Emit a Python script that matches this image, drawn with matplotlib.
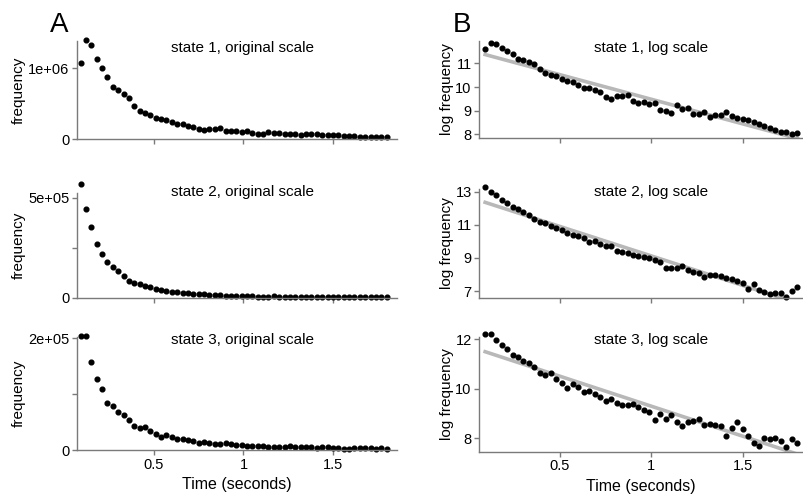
import numpy as np
import matplotlib
matplotlib.use("Agg")
import matplotlib.pyplot as plt

plt.rcParams['font.family'] = ['Liberation Sans', 'DejaVu Sans']

# bin centres (seconds)
time_s = np.round(0.09 + 0.03 * np.arange(58), 2)

# log frequency
log_state1 = [11.59, 11.85, 11.80, 11.63, 11.52, 11.38, 11.20, 11.15, 11.06, 10.96,
              10.77, 10.58, 10.52, 10.46, 10.32, 10.25, 10.23, 10.08, 9.97, 9.97,
              9.87, 9.77, 9.59, 9.51, 9.61, 9.61, 9.66, 9.42, 9.31, 9.38,
              9.27, 9.31, 9.03, 8.97, 8.90, 9.24, 9.07, 9.13, 8.85, 8.86,
              8.93, 8.72, 8.82, 8.82, 8.93, 8.79, 8.68, 8.65, 8.59, 8.51,
              8.44, 8.37, 8.27, 8.17, 8.08, 8.08, 8.02, 8.07]
log_state2 = [13.25, 13.00, 12.78, 12.50, 12.30, 12.09, 11.93, 11.79, 11.59, 11.33,
              11.19, 11.09, 10.95, 10.83, 10.69, 10.53, 10.38, 10.30, 10.20, 9.94,
              10.00, 9.82, 9.72, 9.72, 9.40, 9.38, 9.28, 9.18, 9.09, 9.03,
              8.98, 8.86, 8.76, 8.37, 8.42, 8.41, 8.52, 8.27, 8.17, 8.10,
              7.83, 7.95, 7.97, 7.88, 7.81, 7.70, 7.63, 7.51, 7.10, 7.41,
              7.05, 6.95, 6.80, 6.86, 6.86, 6.66, 7.00, 7.27]
log_state3 = [12.23, 12.23, 11.97, 11.75, 11.61, 11.35, 11.28, 11.13, 11.04, 10.88,
              10.65, 10.57, 10.63, 10.41, 10.25, 10.05, 10.18, 10.06, 9.87, 9.91,
              9.81, 9.68, 9.50, 9.58, 9.44, 9.35, 9.35, 9.39, 9.28, 9.15,
              9.05, 8.75, 8.98, 8.80, 8.94, 8.64, 8.51, 8.66, 8.72, 8.77,
              8.54, 8.58, 8.52, 8.48, 8.10, 8.43, 8.64, 8.37, 8.10, 7.83,
              7.69, 8.00, 7.98, 8.00, 7.91, 7.64, 7.98, 7.83]
log_data = [log_state1, log_state2, log_state3]
# state 1 original-scale counts sit about 10x above exp(log frequency)
count_scale = [10, 1, 1]

states = ["state 1", "state 2", "state 3"]
freq_ticks = [[0, 1e6], [0, 2.5e5, 5e5], [0, 1e5, 2e5]]
freq_ticklabels = [["0", "1e+06"], ["0", "", "5e+05"], ["0", "", "2e+05"]]
log_ticks = [[8, 9, 10, 11], [7, 9, 11, 13], [8, 10, 12]]

W, H = 804, 498
fig = plt.figure(figsize=(W / 100, H / 100), dpi=100)

def px_axes(l, t, r, b):
    return fig.add_axes([l / W, 1 - b / H, (r - l) / W, (b - t) / H])

left_boxes = [(77, 40.7, 397, 139.3), (77, 193.3, 397, 297.5), (77, 337.3, 397, 450)]
right_boxes = [(479.3, 40.7, 801.7, 138.3), (479.3, 189.3, 801.7, 297.7), (479.3, 337.3, 801.7, 451.7)]
left_ylim = [(0, 1.389e6), (0, 5.22e5), (0, 2.02e5)]
right_ylim = [(7.83, 11.96), (6.60, 13.14), (7.46, 12.08)]
title_y = [48, 192, 340]
axis_grey = "#7a7a7a"

def style(ax):
    for s in ["top", "right"]:
        ax.spines[s].set_visible(False)
    for s in ["left", "bottom"]:
        ax.spines[s].set_color(axis_grey)
        ax.spines[s].set_linewidth(1.0)
    ax.tick_params(colors=axis_grey, labelcolor="black", length=3.5, width=1.0,
                   labelsize=10.5, pad=2)
    ax.set_xticks([0.5, 1, 1.5])

for i in range(3):
    logf = np.array(log_data[i])
    freq = np.exp(logf) * count_scale[i]

    # A: original scale
    ax = px_axes(*left_boxes[i])
    style(ax)
    ax.plot(time_s, freq, "o", color="black", ms=3.4, clip_on=False)
    ax.set_xlim(0.07, 1.858)
    ax.set_ylim(*left_ylim[i])
    ax.set_yticks(freq_ticks[i])
    ax.set_yticklabels(freq_ticklabels[i])
    ax.set_ylabel("frequency", fontsize=11)
    ax.yaxis.set_label_coords((26 - 77) / 320, 0.5)
    fig.text(243 / W, 1 - title_y[i] / H, states[i] + ", original scale",
             ha="center", va="center", fontsize=11)

    # B: log scale with fitted line
    bx = px_axes(*right_boxes[i])
    style(bx)
    slope, icpt = np.polyfit(time_s, logf, 1)
    bx.plot(time_s, icpt + slope * time_s, color="#b8b8b8", lw=2.6, zorder=1)
    bx.plot(time_s, logf, "o", color="black", ms=3.4, clip_on=False, zorder=2)
    bx.set_xlim(0.058, 1.824)
    bx.set_ylim(*right_ylim[i])
    bx.set_yticks(log_ticks[i])
    bx.set_ylabel("log frequency", fontsize=11)
    bx.yaxis.set_label_coords((454 - 479.3) / 322.4, 0.5)
    fig.text(651 / W, 1 - title_y[i] / H, states[i] + ", log scale",
             ha="center", va="center", fontsize=11)

    for a in (ax, bx):
        if i < 2:
            a.set_xticklabels([])
        else:
            a.set_xticklabels(["0.5", "1", "1.5"])
            a.set_xlabel("Time (seconds)", fontsize=11.5)
            a.xaxis.set_label_coords(0.5, -27 / 113)

fig.text(50 / W, 1 - 32 / H, "A", fontsize=20, va="baseline")
fig.text(453 / W, 1 - 32 / H, "B", fontsize=20, va="baseline")

fig.savefig("out.png", dpi=100)
